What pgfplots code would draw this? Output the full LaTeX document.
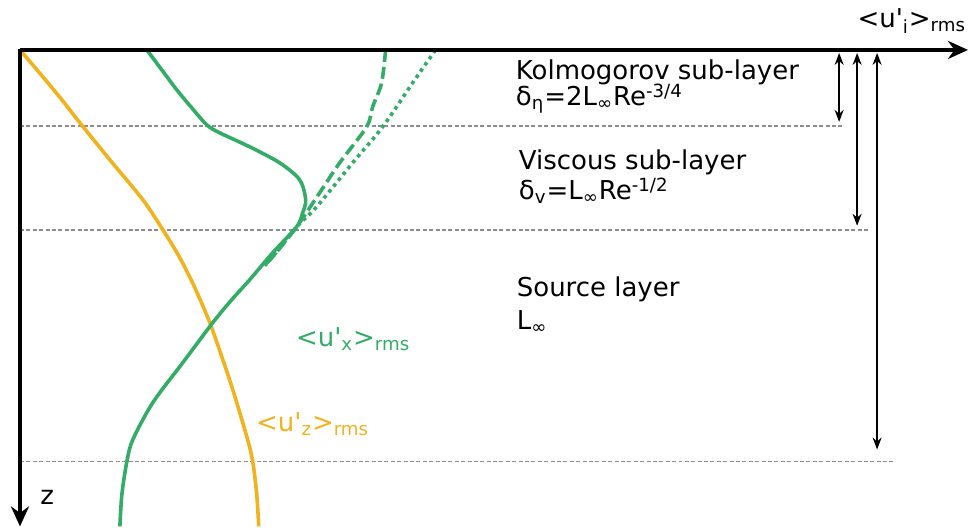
\documentclass[border=0pt]{standalone}
\usepackage{fontspec}
\setmainfont{DejaVu Sans}
\usepackage{pgfplots}
\pgfplotsset{compat=1.18}
\usetikzlibrary{arrows.meta}

\definecolor{cgreen}{RGB}{52,172,104}
\definecolor{corange}{RGB}{240,178,30}
\definecolor{cgrid}{RGB}{140,140,140}

\begin{document}
\begin{tikzpicture}
\begin{axis}[
    scale only axis,
    width=485pt, height=264pt, % 1 px = 0.5 pt
    xmin=0, xmax=970, ymin=0, ymax=528,
    y dir=reverse,
    hide axis,
    clip=false,
]
% bounding box of the whole figure
\path (axis cs:0,0) rectangle (axis cs:970,528);

% layer boundaries
\addplot[cgrid, line width=0.8pt, dash pattern=on 2pt off 1.2pt] coordinates {(20,126) (843,126)};
\addplot[cgrid, line width=0.8pt, dash pattern=on 2pt off 1.2pt] coordinates {(20,230) (870,230)};
\addplot[cgrid, line width=0.8pt, dash pattern=on 2pt off 1.2pt] coordinates {(20,462) (895,462)};

% <u'_z>_rms
\addplot[corange, line width=1.8pt, smooth, tension=0.5] coordinates {
    (20,50) (43,77) (62,100) (80,123) (110,160) (143,200) (163,230)
    (180,258) (195,288) (210,323) (222,357) (233,390) (247,437)
    (253,462) (257,495) (259,527)};

% <u'_x>_rms, dotted
\addplot[cgreen, line width=1.8pt, dotted, smooth, tension=0.5] coordinates {
    (436,50) (413,83) (383,127) (353,163) (317,207) (297,227) (273,257) (265,266)};

% <u'_x>_rms, dashed
\addplot[cgreen, line width=1.8pt, dash pattern=on 6pt off 2.5pt, smooth, tension=0.5] coordinates {
    (386,50) (382,83) (373,107) (367,127) (340,163) (320,193) (297,227) (273,257) (263,267)};

% <u'_x>_rms, solid
\addplot[cgreen, line width=1.8pt, smooth, tension=0.5] coordinates {
    (147,50) (162,70) (177,90) (192,108) (207,125) (220,133) (250,147)
    (280,163) (300,180) (306,200) (303,213) (297,227) (273,253) (250,280)
    (232,300) (213,323) (183,363) (153,403) (133,440) (127,462) (122,495) (120,527)};

% axes
\draw[line width=2pt, -{Stealth[length=10pt, width=9pt]}] (axis cs:20,50) -- (axis cs:969,50);
\draw[line width=2pt, -{Stealth[length=10pt, width=9pt]}] (axis cs:20,49) -- (axis cs:20,527);

% thickness arrows
\draw[line width=0.8pt, {Stealth[length=6pt, width=4.5pt]}-{Stealth[length=6pt, width=4.5pt]}] (axis cs:840,53) -- (axis cs:840,122);
\draw[line width=0.8pt, {Stealth[length=6pt, width=4.5pt]}-{Stealth[length=6pt, width=4.5pt]}] (axis cs:858,53) -- (axis cs:858,226);
\draw[line width=0.8pt, {Stealth[length=6pt, width=4.5pt]}-{Stealth[length=6pt, width=4.5pt]}] (axis cs:878,53) -- (axis cs:878,450);

% labels
\tikzset{lbl/.style={anchor=base west, inner sep=0pt, font=\fontsize{13}{15.6}\selectfont}}
\node[lbl] at (axis cs:516,80) {Kolmogorov sub-layer};
\node[lbl] at (axis cs:516,106) {δ\textsubscript{η}=2L\textsubscript{∞}Re\textsuperscript{-3/4}};
\node[lbl] at (axis cs:519,170) {Viscous sub-layer};
\node[lbl] at (axis cs:519,200) {δ\textsubscript{v}=L\textsubscript{∞}Re\textsuperscript{-1/2}};
\node[lbl] at (axis cs:517,297) {Source layer};
\node[lbl] at (axis cs:517,330) {L\textsubscript{∞}};
\node[lbl, text=cgreen] at (axis cs:296,347) {<u\textquotesingle\textsubscript{x}>\textsubscript{rms}};
\node[lbl, text=corange] at (axis cs:256,432) {<u\textquotesingle\textsubscript{z}>\textsubscript{rms}};
\node[lbl] at (axis cs:858,28) {<u\textquotesingle\textsubscript{i}>\textsubscript{rms}};
\node[lbl] at (axis cs:40,505) {z};
\end{axis}
\end{tikzpicture}
\end{document}
